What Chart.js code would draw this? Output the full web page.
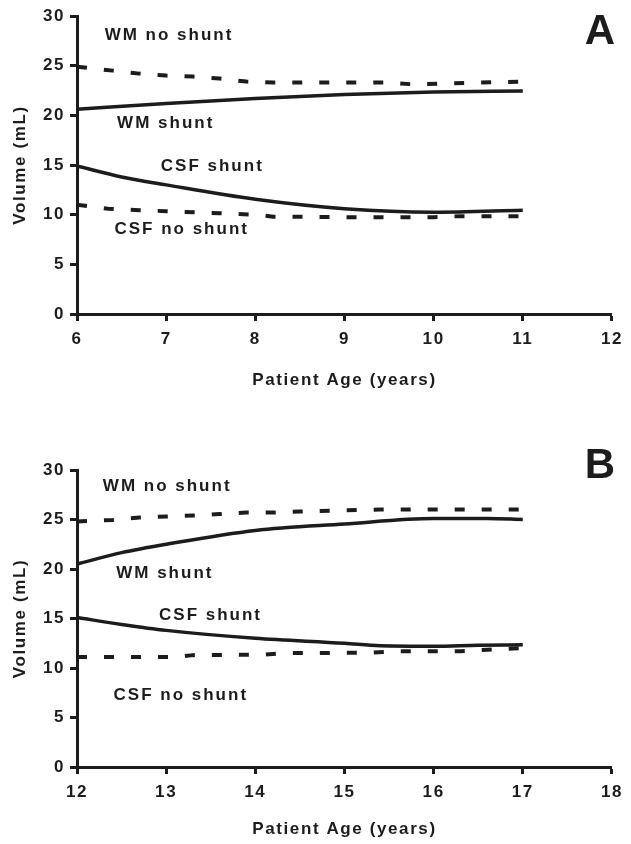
<!DOCTYPE html>
<html>
<head>
<meta charset="utf-8">
<script src="https://cdn.jsdelivr.net/npm/chart.js@4.4.1/dist/chart.umd.min.js"></script>
<style>
  html, body { margin: 0; padding: 0; background: #fff; }
  #wrap { position: relative; width: 631px; height: 844px; }
  canvas { position: absolute; left: 0; }
  #panel-a { top: 0; }
  #panel-b { top: 422px; }
</style>
</head>
<body>
<div id="wrap">
  <canvas id="panel-a" width="631" height="422"></canvas>
  <canvas id="panel-b" width="631" height="422"></canvas>
</div>
<script>
// panel A, ages 6-11
const wmShuntAgeA = [6, 7, 8, 9, 10, 11];
const wmShuntVolA = [20.6, 21.2, 21.7, 22.1, 22.35, 22.45];
const wmNoShuntAgeA = [6, 6.4, 6.7, 7, 7.3, 7.6, 7.9, 8.2, 9, 9.5, 9.8, 10.1, 10.5, 11];
const wmNoShuntVolA = [24.9, 24.5, 24.2, 24.0, 23.9, 23.7, 23.4, 23.3, 23.3, 23.3, 23.1, 23.2, 23.3, 23.4];
const csfShuntAgeA = [6, 6.5, 7, 8, 9, 10, 11];
const csfShuntVolA = [14.9, 13.8, 13.0, 11.55, 10.6, 10.25, 10.45];
const csfNoShuntAgeA = [6, 6.35, 6.7, 7, 7.6, 8, 8.2, 9, 10, 10.3, 11];
const csfNoShuntVolA = [11.0, 10.6, 10.45, 10.35, 10.15, 10.0, 9.8, 9.75, 9.75, 9.85, 9.85];

// panel B, ages 12-17
const wmShuntAgeB = [12, 12.5, 13, 14, 15, 16, 16.6, 17];
const wmShuntVolB = [20.5, 21.65, 22.5, 23.9, 24.55, 25.1, 25.1, 25.0];
const wmNoShuntAgeB = [12, 12.4, 12.7, 13, 13.3, 13.6, 13.9, 14.2, 14.5, 14.9, 15.4, 17];
const wmNoShuntVolB = [24.8, 24.95, 25.2, 25.3, 25.4, 25.55, 25.7, 25.7, 25.8, 25.9, 26.0, 26.0];
const csfShuntAgeB = [12, 12.5, 13, 14, 15, 15.4, 16, 16.5, 17];
const csfShuntVolB = [15.1, 14.4, 13.8, 13.0, 12.5, 12.25, 12.2, 12.3, 12.35];
const csfNoShuntAgeB = [12, 13.1, 13.3, 14.1, 14.3, 15.3, 15.6, 16.3, 16.6, 17];
const csfNoShuntVolB = [11.1, 11.1, 11.3, 11.35, 11.5, 11.55, 11.7, 11.7, 11.85, 12.0];

// curve labels
const noteText = ["WM no shunt", "WM shunt", "CSF shunt", "CSF no shunt"];
const noteAgeA = [6.31, 6.45, 6.94, 6.42];
const noteVolA = [28.1, 19.2, 14.9, 8.5];
const noteAgeB = [12.29, 12.44, 12.92, 12.41];
const noteVolB = [28.4, 19.6, 15.35, 7.2];

const ink = "#1c1c1c";
const family = "'Liberation Sans', Arial, sans-serif";
const boldFont = { family: family, size: 17, weight: "bold" };

const pts = (xs, ys) => xs.map((x, i) => ({ x: x, y: ys[i] }));

const solid = (data) => ({
  data: data,
  borderColor: ink,
  borderWidth: 3.5,
  pointRadius: 0,
  cubicInterpolationMode: "monotone",
  fill: false,
});
const dashed = (data) => ({
  data: data,
  borderColor: ink,
  borderWidth: 4,
  borderDash: [10, 17],
  borderCapStyle: "butt",
  pointRadius: 0,
  tension: 0,
  fill: false,
});

const spacingPlugin = {
  id: "spacing",
  beforeLayout: (chart) => {
    chart.ctx.letterSpacing = "1.6px";
  },
};

const notesPlugin = {
  id: "notes",
  afterDatasetsDraw: (chart, args, opts) => {
    const ctx = chart.ctx;
    const { x, y } = chart.scales;
    ctx.save();
    ctx.letterSpacing = "2px";
    ctx.font = "bold 17px " + family;
    ctx.fillStyle = ink;
    ctx.textAlign = "left";
    ctx.textBaseline = "middle";
    noteText.forEach((t, i) => {
      ctx.fillText(t, x.getPixelForValue(opts.ages[i]), y.getPixelForValue(opts.vols[i]));
    });
    ctx.font = "bold 42px " + family;
    ctx.letterSpacing = "0px";
    ctx.textAlign = "center";
    ctx.textBaseline = "alphabetic";
    ctx.fillText(opts.letter, 600, opts.letterY);
    ctx.restore();
  },
};

const makePanel = (id, series, range, notes, box) => {
  return new Chart(document.getElementById(id), {
    type: "line",
    data: {
      datasets: [
        solid(series[0]),
        dashed(series[1]),
        solid(series[2]),
        dashed(series[3]),
      ],
    },
    plugins: [spacingPlugin, notesPlugin],
    options: {
      responsive: false,
      animation: false,
      events: [],
      layout: { padding: { top: box.top, right: 11, left: 0, bottom: 0 } },
      plugins: {
        legend: { display: false },
        tooltip: { enabled: false },
        notes: notes,
      },
      scales: {
        x: {
          type: "linear",
          min: range[0],
          max: range[1],
          afterFit: (s) => {
            s.height = box.xHeight;
          },
          ticks: { stepSize: 1, font: boldFont, color: ink, padding: 8, maxRotation: 0 },
          grid: { drawOnChartArea: false, drawTicks: true, tickLength: 7, tickWidth: 3, color: ink },
          border: { display: true, width: 3, color: ink },
          title: {
            display: true,
            text: "Patient Age (years)",
            font: boldFont,
            color: ink,
            padding: { top: 0, bottom: box.titlePad },
          },
        },
        y: {
          min: 0,
          max: 30,
          afterFit: (s) => {
            s.width = 77;
          },
          ticks: { stepSize: 5, font: boldFont, color: ink, padding: 5 },
          grid: { drawOnChartArea: false, drawTicks: true, tickLength: 7, tickWidth: 3, color: ink },
          border: { display: true, width: 3, color: ink },
          title: {
            display: true,
            text: "Volume (mL)",
            font: boldFont,
            color: ink,
            padding: { top: 10, bottom: 0 },
          },
        },
      },
    },
  });
};

makePanel(
  "panel-a",
  [
    pts(wmShuntAgeA, wmShuntVolA),
    pts(wmNoShuntAgeA, wmNoShuntVolA),
    pts(csfShuntAgeA, csfShuntVolA),
    pts(csfNoShuntAgeA, csfNoShuntVolA),
  ],
  [6, 12],
  { ages: noteAgeA, vols: noteVolA, letter: "A", letterY: 44 },
  { top: 16, xHeight: 108, titlePad: 31 }
);

makePanel(
  "panel-b",
  [
    pts(wmShuntAgeB, wmShuntVolB),
    pts(wmNoShuntAgeB, wmNoShuntVolB),
    pts(csfShuntAgeB, csfShuntVolB),
    pts(csfNoShuntAgeB, csfNoShuntVolB),
  ],
  [12, 18],
  { ages: noteAgeB, vols: noteVolB, letter: "B", letterY: 56 },
  { top: 48, xHeight: 77, titlePad: 4 }
);
</script>
</body>
</html>
